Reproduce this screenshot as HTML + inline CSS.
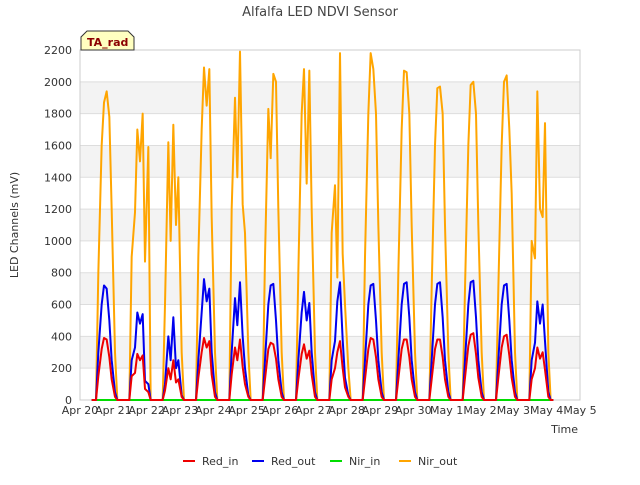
<!DOCTYPE html>
<html><head><meta charset="utf-8"><style>
body{margin:0;background:#fff;font-family:"Liberation Sans",sans-serif}
svg text{font-family:"DejaVu Sans","Liberation Sans",sans-serif}
</style></head><body>
<svg id="c" width="640" height="480" xmlns="http://www.w3.org/2000/svg">
<text x="320" y="16" text-anchor="middle" font-size="13" fill="#444">Alfalfa LED NDVI Sensor</text>
<g id="grid"></g>
<rect x="80" y="50" width="500" height="350" fill="none" stroke="#ccc"/>
<g id="series"></g>
<g id="axes"></g>
<text x="18" y="225" transform="rotate(-90 18 225)" text-anchor="middle" font-size="11" fill="#333">LED Channels (mV)</text>
<text x="578" y="433" text-anchor="end" font-size="11" fill="#333">Time</text>
<g>
<path d="M81,50 L81,37 L87,31 L128,31 L134,37 L134,50 Z" fill="#ffffc0" stroke="#333"/>
<text x="87" y="46" font-size="11" font-weight="bold" fill="#8b0000">TA_rad</text>
</g>
<g id="legend"></g>
</svg>
<script>
const days=[0,1,2,3,4,5,6,7,8,9,10,11,12,13];
const offsets=[0.48,0.55,0.65,0.72,0.8,0.88,0.95,1.05,1.12];
const xTicks=["Apr 20","Apr 21","Apr 22","Apr 23","Apr 24","Apr 25","Apr 26","Apr 27","Apr 28","Apr 29","Apr 30","May 1","May 2","May 3","May 4","May 5"];
const yTicks=[0,200,400,600,800,1000,1200,1400,1600,1800,2000,2200];
const nirOut=[
[0,800,1600,1870,1940,1780,1200,300,0],
[0,900,1180,1700,1500,1800,870,1590,0],
[0,600,1620,1000,1730,1100,1400,300,0],
[0,900,1700,2090,1850,2080,1150,300,0],
[0,1200,1900,1400,2190,1230,1050,300,0],
[0,900,1830,1520,2050,2000,1200,300,0],
[0,800,1800,2080,1360,2070,1200,300,0],
[0,1050,1350,770,2180,920,600,200,0],
[0,900,1800,2180,2080,1800,1100,300,0],
[0,800,1700,2070,2060,1800,1100,300,0],
[0,700,1600,1960,1970,1800,1100,300,0],
[0,700,1600,1980,2000,1800,1100,300,0],
[0,700,1600,2000,2040,1700,1300,300,0],
[0,1000,890,1940,1200,1150,1740,300,0]];
const redOut=[
[0,300,600,720,700,500,250,50,0],
[0,250,330,550,480,540,120,100,0],
[0,100,400,250,520,200,250,30,0],
[0,250,550,760,620,700,300,50,0],
[0,300,640,470,740,400,200,30,0],
[0,250,600,720,730,500,250,50,0],
[0,250,550,680,500,610,300,50,0],
[0,250,370,620,740,380,140,30,0],
[0,250,600,720,730,500,250,50,0],
[0,250,600,730,740,520,250,50,0],
[0,250,600,730,740,520,250,50,0],
[0,250,600,740,750,520,250,50,0],
[0,250,600,720,730,500,250,50,0],
[0,250,360,620,480,600,370,50,0]];
const redIn=[
[0,150,320,390,380,270,130,20,0],
[0,150,170,290,250,280,70,50,0],
[0,60,200,130,250,110,130,20,0],
[0,140,300,390,330,370,160,20,0],
[0,160,330,250,380,210,100,20,0],
[0,130,320,360,350,260,130,20,0],
[0,130,290,350,260,310,160,20,0],
[0,130,200,300,370,200,80,20,0],
[0,130,320,390,380,270,130,20,0],
[0,130,320,380,380,270,130,20,0],
[0,130,320,380,380,270,130,20,0],
[0,140,340,410,420,290,140,20,0],
[0,140,330,400,410,280,140,20,0],
[0,130,200,330,260,300,190,20,0]];
const nirIn=[0,0];
const X=t=>80+t*500/15, Y=v=>400-v*350/2200;
const NS="http://www.w3.org/2000/svg";
function mk(tag,attrs,parent){const e=document.createElementNS(NS,tag);for(const k in attrs)e.setAttribute(k,attrs[k]);parent.appendChild(e);return e;}
const grid=document.getElementById('grid'),axes=document.getElementById('axes'),ser=document.getElementById('series'),leg=document.getElementById('legend');
for(let i=0;i<yTicks.length-1;i++){if(i%2===1){const r=mk('rect',{x:80,y:Y(yTicks[i+1]),width:500,height:Y(yTicks[i])-Y(yTicks[i+1]),fill:'#f3f3f3'},grid);}}
yTicks.forEach(v=>{const l=mk('line',{x1:80,x2:580,y1:Y(v),y2:Y(v),stroke:'#ddd'},grid);
const t=mk('text',{x:72,y:Y(v)+4,'text-anchor':'end','font-size':11,fill:'#333'},axes);t.textContent=v;});
xTicks.forEach((s,i)=>{const t=mk('text',{x:X(i),y:414,'text-anchor':'middle','font-size':11,fill:'#333'},axes);t.textContent=s;});
function path(arr,color,name){let pts=[[X(0.35),Y(0)]];days.forEach((d,i)=>{offsets.forEach((o,j)=>pts.push([X(d+o),Y(arr[i][j])]));});pts.push([X(14.2),Y(0)]);
const p=mk('polyline',{points:pts.map(p=>p.join(',')).join(' '),fill:'none',stroke:color,'stroke-width':2,'stroke-linejoin':'round'},ser);}
const nz=mk('line',{x1:X(0.35),x2:X(14.2),y1:Y(nirIn[0]),y2:Y(nirIn[1]),stroke:'#00dd00','stroke-width':2},ser);
path(nirOut,'#ffa500','series-nir-out');path(redOut,'#0000ee','series-red-out');path(redIn,'#ee0000','series-red-in');
[["Red_in","#ee0000",183],["Red_out","#0000ee",252],["Nir_in","#00dd00",330],["Nir_out","#ffa500",399]].forEach(([n,c,x])=>{const g=mk('g',{},leg);
mk('line',{x1:x,x2:x+12,y1:461,y2:461,stroke:c,'stroke-width':2},g);const t=mk('text',{x:x+19,y:465,'font-size':11,fill:'#333'},g);t.textContent=n;});
</script>
</body></html>
